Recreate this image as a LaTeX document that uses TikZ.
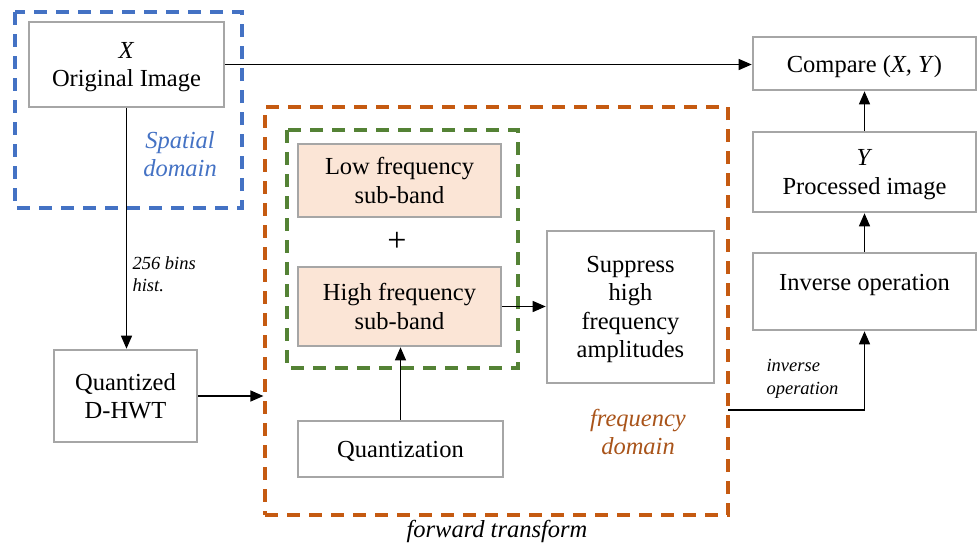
\documentclass[tikz,border=0pt]{standalone}
\usepackage{fontspec}
\setmainfont{Liberation Serif}
\usetikzlibrary{arrows.meta}
\definecolor{boxgray}{HTML}{A6A6A6}
\definecolor{peach}{HTML}{FBE5D6}
\definecolor{dblue}{HTML}{4472C4}
\definecolor{dorange}{HTML}{C55A11}
\definecolor{dgreen}{HTML}{548235}
\definecolor{ftext}{HTML}{A9541A}
\begin{document}
\begin{tikzpicture}[x=1pt,y=-1pt,
  >={Triangle[length=13pt,width=11pt]},
  box/.style={draw=boxgray,line width=2.6pt,fill=white,inner sep=0pt,align=center,
    font=\fontsize{24.5}{28.5}\selectfont,text depth=0pt},
  band/.style={box,fill=peach},
  region/.style={line width=3.2pt,dash pattern=on 13pt off 9pt,inner sep=0pt},
  conn/.style={line width=1.3pt,->},
  note/.style={font=\fontsize{24.5}{28.5}\selectfont\itshape,align=center},
  small/.style={font=\fontsize{18.5}{22.5}\selectfont\itshape,align=left}]
\useasboundingbox (0,0) rectangle (978,549);

% dashed domain regions
\draw[region,draw=dblue] (15,12) rectangle (242,208);
\node[region,draw=dorange,minimum width=463pt,minimum height=408pt] (fwd) at (496.5,311) {};
\draw[region,draw=dgreen] (287,130) rectangle (518,368);

% boxes
\node[box,minimum width=195pt,minimum height=85pt] (orig) at (126.5,64.5) {\textit{X}\\Original Image};
\node[box,minimum width=143pt,minimum height=92pt] (qdh) at (125.5,396) {Quantized\\D-HWT};
\node[band,minimum width=203pt,minimum height=73pt,text depth=-6pt] (low) at (399.5,180.5) {Low frequency\\sub-band};
\node[band,minimum width=203pt,minimum height=79pt] (high) at (399.5,306.5) {High frequency\\sub-band};
\node[font=\fontsize{34}{36}\selectfont] (plus) at (397,242) {+};
\node[box,minimum width=205pt,minimum height=56pt] (quant) at (400.5,449) {Quantization};
\node[box,minimum width=167pt,minimum height=152pt] (supp) at (630.5,307) {Suppress\\high\\frequency\\amplitudes};
\node[box,minimum width=223pt,minimum height=53pt] (cmp) at (864.5,63.5) {Compare (\textit{X, Y})};
\node[box,minimum width=223pt,minimum height=80pt] (proc) at (864.5,172) {\textit{Y}\\Processed image};
\node[box,minimum width=223pt,minimum height=77pt] (inv) at (864.5,291.5) {Inverse operation\\[-10pt]\strut};

% region labels
\node[note,text=dblue] (spat) at (180,154) {Spatial\\domain};
\node[note,text=ftext] (freq) at (638,432) {frequency\\domain};
\node[note] (fwdlbl) at (497,531) {forward transform};
\node[small,anchor=west] (hist) at (129,274) {256 bins\\hist.};
\node[small,anchor=west] (invlbl) at (763,379) {inverse\\operation};

% connectors
\coordinate (ret) at (728,410);
\draw[conn] (orig.east) -- (orig.east -| cmp.west);
\draw[conn] (orig.south) -- (orig.south |- qdh.north);
\draw[conn] (qdh.east) -- (qdh.east -| fwd.west);
\draw[conn] (high.east) -- (high.east -| supp.west);
\draw[conn] (quant.north) -- (quant.north |- high.south);
\draw[conn] (ret) -| (inv.south);
\draw[conn] (inv.north) -- (proc.south);
\draw[conn] (proc.north) -- (cmp.south);
\end{tikzpicture}
\end{document}
